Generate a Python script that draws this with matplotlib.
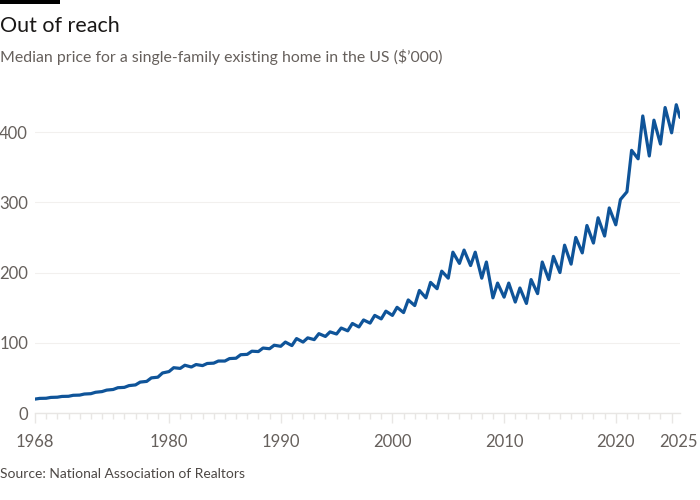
import numpy as np
from matplotlib import pyplot as plt
from matplotlib import patches as mpatches
from matplotlib import transforms as mtransforms

# Median single-family existing home price, $'000 (January low, June high)
years = list(range(1968, 2026))
jan_values = [
    19.8, 21.0, 22.5, 23.8, 25.5, 27.5, 30.5, 33.5, 36.5, 40.0,
    45.0, 51.0, 59.0, 63.5, 65.5, 67.5, 71.0, 74.0, 78.0, 83.5,
    87.5, 91.5, 95.0, 96.0, 101.0, 104.5, 109.0, 112.5, 117.0, 122.5,
    128.0, 134.0, 139.0, 143.0, 153.0, 164.0, 177.0, 192.0, 213.0, 210.0,
    192.0, 164.0, 165.0, 158.0, 156.0, 170.0, 190.0, 200.0, 212.0, 228.0,
    242.0, 252.0, 268.0, 315.0, 362.0, 366.0, 383.0, 399.0,
]
jun_values = [
    20.8, 22.2, 23.6, 25.2, 27.0, 29.5, 32.6, 36.0, 39.0, 44.0,
    50.0, 57.0, 64.5, 68.0, 69.0, 70.5, 74.0, 77.5, 83.0, 88.0,
    92.5, 96.5, 101.0, 106.0, 107.0, 113.0, 115.5, 121.0, 127.5, 132.5,
    139.0, 145.0, 150.5, 161.0, 174.5, 186.0, 202.0, 229.0, 232.0, 229.0,
    215.0, 185.0, 185.0, 178.0, 190.0, 215.0, 223.0, 239.0, 250.0, 267.0,
    278.0, 292.0, 304.0, 374.0, 423.0, 417.0, 435.0, 439.0,
]
last_date = 2025 + 9 / 12
last_value = 421.0

x_ticks = [1968, 1980, 1990, 2000, 2010, 2020, 2025]
y_ticks = [0, 100, 200, 300, 400]

TITLE = 'Out of reach'
SUBTITLE = "Median price for a single-family existing home in the US ($\u2019000)"
SOURCE = 'Source: National Association of Realtors'

FONT = ['Lato', 'DejaVu Sans']
LINE_COLOR = '#0f5499'
TEXT_GREY = '#66605c'

plt.rcParams['font.family'] = FONT

dates = []
values = []
for year, lo, hi in zip(years, jan_values, jun_values):
    dates += [year, year + 5 / 12]
    values += [lo, hi]
dates.append(last_date)
values.append(last_value)

fig = plt.figure(figsize=(7, 5), dpi=100)
fig.patch.set_facecolor('white')
ax = fig.add_axes([35 / 700, 87 / 500, 645 / 700, 316 / 500])

ax.plot(dates, values, color=LINE_COLOR, linewidth=2.3,
        solid_joinstyle='round', solid_capstyle='round', zorder=3)

ax.set_xlim(1968, last_date)
ax.set_ylim(0, 450)

for side in ['top', 'right', 'left']:
    ax.spines[side].set_visible(False)
ax.spines['bottom'].set_color('#e8e6e4')
ax.spines['bottom'].set_linewidth(1)

ax.set_yticks(y_ticks)
ax.yaxis.grid(True, color='#f2f0ee', linewidth=0.8)
ax.set_axisbelow(True)
ax.tick_params(axis='y', length=0, pad=5, labelsize=12, labelcolor=TEXT_GREY)

ax.set_xticks(x_ticks)
ax.set_xticks(range(1968, 2026), minor=True)
ax.tick_params(axis='x', which='major', length=7, width=1, color='#e8e6e4',
               pad=8, labelsize=12, labelcolor=TEXT_GREY)
ax.tick_params(axis='x', which='minor', length=4, width=1, color='#e8e6e4')

# last label sits a little to the right of its tick
last_label = ax.get_xticklabels()[-1]
offset = mtransforms.ScaledTranslation(7 / 100, 0, fig.dpi_scale_trans)
last_label.set_transform(last_label.get_transform() + offset)

fig.add_artist(mpatches.Rectangle((0, 496 / 500), 60 / 700, 4 / 500,
                                  transform=fig.transFigure,
                                  facecolor='black', edgecolor='none'))
fig.text(0.0, 1 - 32 / 500, TITLE, fontsize=15.5, color='#1a1817',
         ha='left', va='baseline')
fig.text(0.0, 1 - 62 / 500, SUBTITLE, fontsize=11.4, color=TEXT_GREY,
         ha='left', va='baseline')
fig.text(0.0, 1 - 478 / 500, SOURCE, fontsize=10, color='#4d4845',
         ha='left', va='baseline')

plt.savefig('out.png', dpi=100)
